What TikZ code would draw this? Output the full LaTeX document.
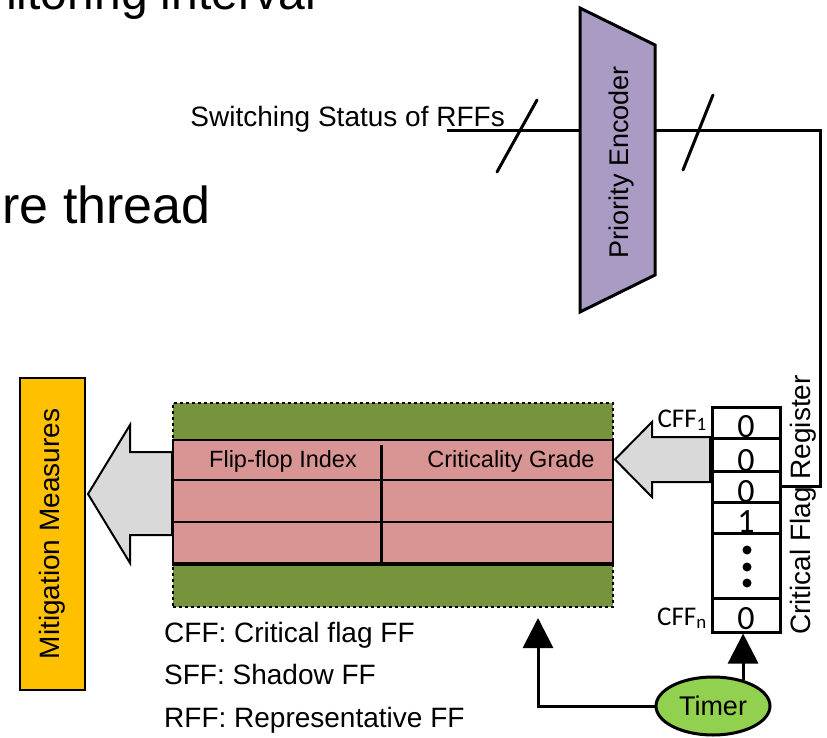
\documentclass[tikz,border=0pt]{standalone}
\usepackage{fontspec}
\setmainfont{Liberation Sans}
\newfontfamily\calfont{Carlito}
\usepackage{tikz}
\usetikzlibrary{arrows.meta,shapes.geometric}

\definecolor{encpurple}{HTML}{A99BC4}
\definecolor{tabgreen}{HTML}{77933C}
\definecolor{rowpink}{HTML}{D99594}
\definecolor{mitorange}{HTML}{FFC000}
\definecolor{timegreen}{HTML}{92D050}
\definecolor{arrowgray}{HTML}{D9D9D9}
\newcommand{\fsz}[1]{\fontsize{#1}{#1}\selectfont}

\begin{document}
\begin{tikzpicture}[x=1pt,y=-1pt,
  wire/.style={line width=3pt},
  bigtip/.style={-{Triangle[length=30pt,width=30pt]}},
  cell/.style={draw,line width=3pt,minimum width=68pt,inner sep=0pt},
  digit/.style={anchor=base,inner sep=0pt,font=\calfont\fsz{34}},
  cfflabel/.style={anchor=base east,inner sep=0pt,font=\calfont\fsz{27}},
  pinkrow/.style={draw,fill=rowpink,line width=2pt,minimum width=440pt,inner sep=0pt},
  blockarrow/.style={draw,fill=arrowgray,line width=2pt,line join=miter},
  legend/.style={anchor=base west,inner sep=0pt,font=\fsz{28}}]
  \useasboundingbox (0,0) rectangle (827,738);

  % slide text behind the figure
  \node[anchor=base east,inner sep=0pt,font=\fsz{48}] (S-1) at (316,10) {nitoring interval};
  \node[anchor=base east,inner sep=0pt,font=\fsz{52}] (S-2) at (211,223) {re thread};

  % priority encoder
  \draw[wire,fill=encpurple,line join=miter] (580,8) -- (655,45) -- (655,275) -- (580,312) -- cycle;
  \node[rotate=90,anchor=base,inner sep=0pt,font=\fsz{27}] (enc) at (628,162) {Priority Encoder};
  \coordinate (enc-in) at (580,131);
  \coordinate (enc-out) at (655,131);
  \coordinate (sw-start) at (447,131);
  \node[anchor=base east,inner sep=0pt,font=\fsz{28}] (sw) at (505,127) {Switching Status of RFFs};
  \draw[wire] (sw-start) -- (enc-in);
  \draw[wire,line cap=round] (497,172) -- (537,100);
  \draw[wire,line cap=round] (683,170) -- (713,95);

  % critical flag register
  \node[cell,minimum height=31pt] (R-1) at (746,422.5) {};
  \node[cell,minimum height=33pt] (R-2) at (746,454.5) {};
  \node[cell,minimum height=31pt] (R-3) at (746,486.5) {};
  \node[cell,minimum height=31pt] (R-4) at (746,517.5) {};
  \node[cell,minimum height=65pt] (R-5) at (746,565.5) {};
  \node[cell,minimum height=34pt] (R-6) at (746,615) {};
  \node[digit,yshift=2pt] at (R-1.south) {0};
  \node[digit,yshift=1pt] at (R-2.south) {0};
  \node[digit,yshift=1pt] at (R-3.south) {0};
  \node[digit,yshift=2pt] at (R-4.south) {1};
  \node[digit,yshift=4pt] at (R-6.south) {0};
  \fill (747,550) circle (4.5pt) (747,567) circle (4.5pt) (747,583) circle (4.5pt);
  \node[cfflabel] (cff-1) at (707,427) {CFF\textsubscript{1}};
  \node[cfflabel] (cff-n) at (707,625) {CFF\textsubscript{n}};
  \node[rotate=90,anchor=base,inner sep=0pt,font=\fsz{28}] (reg) at (810,505) {Critical Flag Register};
  \draw[wire] (enc-out) -- (820,131) |- (R-3.east);

  % table of flip-flops
  \node[draw,dashed,fill=tabgreen,line width=2pt,minimum width=440pt,minimum height=204pt] (tab) at (393,505) {};
  \node[pinkrow,minimum height=40pt] (row-1) at (393,460) {};
  \node[pinkrow,minimum height=42pt] (row-2) at (393,501) {};
  \node[pinkrow,minimum height=41pt] (row-3) at (393,542.5) {};
  \draw[wire] (row-3.south west) -- (row-3.south east);
  \draw[wire] (381,445) -- (381,563);
  \node[font=\fsz{23.5}] (idx) at (283,461) {Flip-flop Index};
  \node[font=\fsz{23.5}] (grade) at (511,461) {Criticality Grade};

  % wide arrows
  \draw[blockarrow] (710,437) -- (652,437) -- (652,422) -- (615,459.5) -- (652,497) -- (652,482) -- (710,482) -- cycle;
  \draw[blockarrow] (172,452) -- (130,452) -- (130,425) -- (88,494) -- (130,563) -- (130,535) -- (172,535) -- cycle;

  % mitigation
  \node[draw,fill=mitorange,line width=2pt,rotate=90,minimum width=312pt,minimum height=65pt,font=\fsz{28}] (mit) at (52.5,534) {Mitigation Measures};

  % timer
  \node[draw,ellipse,fill=timegreen,line width=3pt,minimum width=114pt,minimum height=58pt,inner sep=0pt,font=\fsz{27}] (timer) at (713,706) {Timer};
  \coordinate (tab-in) at (538,618);
  \draw[wire,bigtip] (timer.41) -- (timer.41 |- R-6.south);
  \draw[wire,bigtip] (timer.west) -| (tab-in);

  % legend
  \node[legend] (L-1) at (164,642) {CFF: Critical flag FF};
  \node[legend] (L-2) at (164,684) {SFF: Shadow FF};
  \node[legend] (L-3) at (164,727) {RFF: Representative FF};
\end{tikzpicture}
\end{document}
